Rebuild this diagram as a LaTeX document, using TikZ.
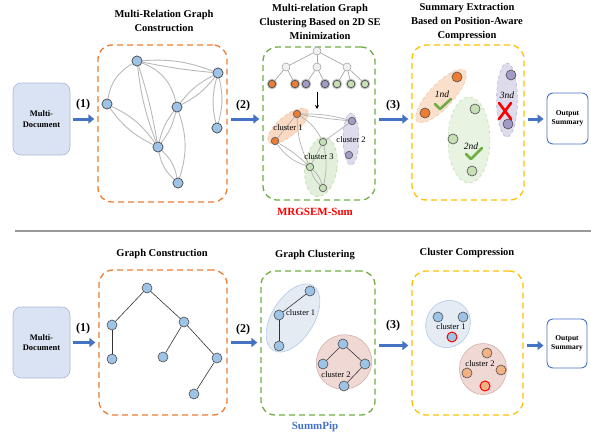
\documentclass[tikz,border=0pt]{standalone}
\usepackage{fontspec}
\setmainfont{Liberation Serif}
\usepackage{tikz}
\usetikzlibrary{positioning,arrows.meta}

\definecolor{nblue}{HTML}{9DC3E6}
\definecolor{norange}{HTML}{ED7D31}
\definecolor{npurple}{HTML}{A29BC8}
\definecolor{ngreen}{HTML}{C5E0B4}
\definecolor{npeach}{HTML}{F4B183}
\definecolor{arrblue}{HTML}{4472C4}
\definecolor{dorange}{HTML}{ED7D31}
\definecolor{dgreen}{HTML}{70AD47}
\definecolor{dyellow}{HTML}{FFC000}
\definecolor{docfill}{HTML}{DAE3F3}
\definecolor{docline}{HTML}{A9B8D6}
\definecolor{cblue}{HTML}{E4EBF3}
\definecolor{cblueline}{HTML}{B4C7E7}
\definecolor{cpink}{HTML}{F0D9D5}
\definecolor{cpinkline}{HTML}{D5AFA8}

\begin{document}
\begin{tikzpicture}
                [x=1pt,y=-1pt,
                n/.style={circle,draw=black!70,fill=nblue,minimum size=10pt,inner sep=0pt,line width=0.6pt},
                sn/.style={circle,draw=black!60,minimum size=7.5pt,inner sep=0pt,line width=0.5pt},
                tn/.style={sn,minimum size=8pt,fill=gray!12,draw=gray!80},
                leaf/.style={sn,draw=black!70,line width=0.7pt,preaction={draw=gray!50,line width=2.8pt}},
                ge/.style={draw=gray!55,line width=0.9pt},
                te/.style={draw=gray!70,line width=0.7pt},
                be/.style={draw=black!80,line width=0.6pt},
                dbox/.style={draw,dash pattern=on 6pt off 4pt,line width=1.3pt,rounded corners=14pt,inner sep=0pt},
                docbox/.style={draw=docline,fill=docfill,rounded corners=8pt,line width=0.6pt,inner sep=0pt,align=center,
                  font=\bfseries\fontsize{8.5}{10.5}\selectfont},
                outbox/.style={draw=arrblue,fill=white,rounded corners=6pt,line width=0.9pt,inner sep=0pt,align=center,
                  font=\bfseries\fontsize{7.5}{9.5}\selectfont},
                ttl/.style={align=center,font=\bfseries\fontsize{10.5}{14}\selectfont},
                stepl/.style={font=\bfseries\fontsize{12}{14}\selectfont},
                cl/.style={font=\fontsize{8.5}{10}\selectfont,inner sep=0pt},
                rk/.style={font=\itshape\fontsize{9.5}{11}\selectfont,inner sep=0pt},
                arr/.style={-{Triangle[length=6pt,width=9pt]},line width=3pt,draw=arrblue,shorten <=3pt,shorten >=3pt},
                chk/.style={draw=dgreen,line width=2.6pt,line cap=round,line join=round},
                xmark/.style={draw=red,line width=2.6pt,line cap=round},
                hot/.style={draw=red,line width=1pt}]
                \useasboundingbox (0,0) rectangle (591,434);

                % ---------------- top row: MRGSEM-Sum ----------------
                \node[ttl] (tt1) at (164,20.5) {Multi-Relation Graph\\Construction};
                \node[ttl] (tt2) at (320,22) {Multi-relation Graph\\Clustering Based on 2D SE\\Minimization};
                \node[ttl] (tt3) at (467,22) {Summary Extraction\\Based on Position-Aware\\Compression};

                \node[docbox,minimum width=57pt,minimum height=72pt] (md1) at (41.5,119) {Multi-\\Document};
                \node[dbox,draw=dorange,minimum width=129pt,minimum height=157pt] (b1) at (162.5,123.5) {};
                \node[dbox,draw=dgreen,minimum width=112pt,minimum height=153pt] (b2) at (319,123.5) {};
                \node[dbox,draw=dyellow,minimum width=112pt,minimum height=155pt] (b3) at (468,122.5) {};
                \node[outbox,minimum width=41pt,minimum height=51pt] (out1) at (567.5,118.5) {Output\\Summary};

                \draw[arr] (md1.east) -- (md1.east -| b1.west);
                \draw[arr] (md1.east -| b1.east) -- (md1.east -| b2.west);
                \draw[arr] (md1.east -| b2.east) -- (md1.east -| b3.west);
                \draw[arr] (md1.east -| b3.east) -- (md1.east -| out1.west);
                \node[stepl] (s1) at (83,105) {(1)};
                \node[stepl] (s2) at (243,106) {(2)};
                \node[stepl] (s3) at (393,106) {(3)};

                % multi-relation graph
                \node[n] (a) at (137,61) {};
                \node[n] (b) at (218,73) {};
                \node[n] (c) at (107,104) {};
                \node[n] (d) at (177,107) {};
                \node[n] (e) at (217,128) {};
                \node[n] (f) at (158,147) {};
                \node[n] (g) at (178,183) {};
                \path[ge](a) edge[bend left=12] (b)
                            edge[bend right=3] (b)
                            edge[bend right=25] (c)
                            edge[bend left=4] (f)
                            edge[bend right=7] (f)
                            edge[bend left=28] (d)
                        (b) edge[bend left=12] (d)
                            edge[bend right=12] (d)
                            edge[bend left=14] (e)
                            edge[bend right=14] (e)
                        (c) edge[bend left=14] (f)
                            edge[bend right=14] (f)
                        (d) edge[bend left=12] (f)
                            edge[bend right=12] (f)
                            edge[bend left=18] (g)
                        (f) edge[bend left=18] (g)
                            edge[bend right=18] (g);
                \foreach \v in {a,b,c,d,e,f,g}
                    \node[n] at (\v) {};

                % encoding tree
                \node[tn] (r0) at (317,51) {};
                \node[tn] (m1) at (286,67) {};
                \node[tn] (m2) at (317,67) {};
                \node[tn] (m3) at (347,67) {};
                \node[leaf,fill=norange] (l1) at (272,84) {};
                \node[leaf,fill=norange] (l2) at (295,84) {};
                \node[leaf,fill=npurple] (l3) at (306,84) {};
                \node[leaf,fill=npurple] (l4) at (325,84) {};
                \node[leaf,fill=ngreen] (l5) at (337,84) {};
                \node[leaf,fill=ngreen] (l6) at (351,84) {};
                \node[leaf,fill=ngreen] (l7) at (365,84) {};
                \path[te](r0) edge (m1) edge (m2) edge (m3)
                        (m1) edge (l1) edge (l2)
                        (m2) edge (l3) edge (l4)
                        (m3) edge (l5) edge (l6) edge (l7);
                \coordinate (dtop) at (317,92);
                \coordinate (dbot) at (317,109);
                \draw[-{Stealth[length=4pt,width=4pt]},line width=0.8pt] (dtop) -- (dbot);

                % clusters of the graph
                \fill[norange!30,draw=norange!55,dashed] (288,126) ellipse[x radius=25,y radius=10,rotate=40];
                \fill[npurple!35,draw=npurple!90,dashed] (351,139) ellipse[x radius=8,y radius=26];
                \fill[ngreen!50,draw=dgreen!60,dashed] (321,167) ellipse[x radius=16,y radius=30,rotate=-8];
                \node[sn,fill=norange] (o1) at (297,114) {};
                \node[sn,fill=norange] (o2) at (275,141) {};
                \node[sn,fill=npurple] (p1) at (352,121) {};
                \node[sn,fill=npurple] (p2) at (349,155) {};
                \node[sn,fill=ngreen] (g1) at (323,142) {};
                \node[sn,fill=ngreen] (g2) at (310,167) {};
                \node[sn,fill=ngreen] (g3) at (323,188) {};
                \path[te,draw=gray!60](o1) edge (o2)
                            edge[bend left=8] (p1)
                            edge[bend left=-2] (p1)
                            edge[bend left=15] (g1)
                            edge[bend right=12] (g2)
                        (o2) edge[bend right=18] (g2)
                            edge[bend left=6] (g2)
                        (g1) edge (p1)
                            edge (g2)
                            edge[bend left=12] (g3)
                        (g2) edge[bend left=15] (g3)
                            edge[bend right=15] (g3);
                \foreach \v in {o1,o2,p1,p2,g1,g2,g3}
                    \node[sn,fill=none] at (\v) {};
                \node[cl] (k1) at (288,128) {cluster 1};
                \node[cl] (k2) at (351,140) {cluster 2};
                \node[cl] (k3) at (319,157) {cluster 3};
                \node[font=\bfseries\fontsize{11}{13}\selectfont,text=red] (nm1) at (315,212) {MRGSEM-Sum};

                % position-aware compression
                \fill[norange!25,draw=norange!50,dashed] (441,96) ellipse[x radius=35,y radius=12,rotate=47];
                \fill[ngreen!40,draw=dgreen!55,dashed] (469,140) ellipse[x radius=21,y radius=43];
                \fill[npurple!35,draw=npurple!90,dashed] (507,100) ellipse[x radius=10.5,y radius=37];
                \node[n,fill=norange] (x1) at (457,77) {};
                \node[n,fill=norange] (x2) at (425,113) {};
                \node[n,fill=ngreen] (y1) at (475,109) {};
                \node[n,fill=ngreen] (y2) at (453,139) {};
                \node[n,fill=ngreen] (y3) at (472,171) {};
                \node[n,fill=npurple] (z1) at (511,75) {};
                \node[n,fill=npurple] (z2) at (508,124) {};
                \node[rk] (rk1) at (442,94) {1nd};
                \node[rk] (rk2) at (471,146) {2nd};
                \node[rk] (rk3) at (507,95) {3nd};
                \draw[chk] (435,104) -- (440,109) -- (451,99);
                \draw[chk] (466,154) -- (471,159) -- (482,148);
                \draw[xmark] (499,103) -- (511,119) (511,103) -- (499,119);

                % separator
                \draw[gray!80,line width=1.2pt] (15,231) -- (591,231);

                % ---------------- bottom row: SummPip ----------------
                \node[ttl] (tt4) at (162,254) {Graph Construction};
                \node[ttl] (tt5) at (315,255) {Graph Clustering};
                \node[ttl] (tt6) at (467,253) {Cluster Compression};

                \node[docbox,minimum width=57pt,minimum height=71pt] (md2) at (41.5,342.5) {Multi-\\Document};
                \node[dbox,draw=dorange,minimum width=128pt,minimum height=145pt] (b4) at (163,342.5) {};
                \node[dbox,draw=dgreen,minimum width=114pt,minimum height=144pt] (b5) at (318,343) {};
                \node[dbox,draw=dyellow,minimum width=111pt,minimum height=144pt] (b6) at (467.5,343) {};
                \node[outbox,minimum width=40pt,minimum height=49pt] (out2) at (567,343.5) {Output\\Summary};

                \draw[arr] (md2.east) -- (md2.east -| b4.west);
                \draw[arr] (md2.east -| b4.east) -- (md2.east -| b5.west);
                \draw[arr] ([yshift=-3pt]md2.east -| b5.east) -- ([yshift=-3pt]md2.east -| b6.west);
                \draw[arr] ([yshift=-3pt]md2.east -| b6.east) -- ([yshift=-3pt]md2.east -| out2.west);
                \node[stepl] (s4) at (83,329) {(1)};
                \node[stepl] (s5) at (243,330) {(2)};
                \node[stepl] (s6) at (393,326) {(3)};

                % tree graph
                \node[n] (t1) at (147,288) {};
                \node[n] (t2) at (112,325) {};
                \node[n] (t3) at (184,322) {};
                \node[n] (t4) at (112,359) {};
                \node[n] (t5) at (163,357) {};
                \node[n] (t6) at (217,358) {};
                \node[n] (t7) at (194,394) {};
                \path[be](t1) edge (t2) edge (t3)
                        (t2) edge (t4)
                        (t3) edge (t5) edge (t6)
                        (t6) edge (t7);

                % clustering
                \fill[cblue,draw=cblueline,line width=0.6pt] (293,318) ellipse[x radius=38,y radius=21,rotate=58];
                \fill[cpink,draw=cpinkline,line width=0.6pt] (344,362) ellipse[x radius=28,y radius=27,rotate=30];
                \node[n] (u1) at (310,291) {};
                \node[n] (u2) at (279,315) {};
                \node[n] (u3) at (279,346) {};
                \node[n] (v1) at (343,344) {};
                \node[n] (v2) at (323,364) {};
                \node[n] (v3) at (365,364) {};
                \node[n] (v4) at (344,386) {};
                \path[be](u1) edge (u2)
                        (u2) edge (u3)
                        (v1) edge (v2) edge (v3)
                        (v3) edge (v4);
                \node[cl,anchor=west] (k4) at (286,313) {cluster 1};
                \node[cl] (k5) at (336,375) {cluster 2};
                \node[font=\bfseries\fontsize{11}{13}\selectfont,text=arrblue] (nm2) at (315,427) {SummPip};

                % cluster compression
                \fill[cblue,draw=cblueline,line width=0.6pt] (448,324) ellipse[x radius=22,y radius=24,rotate=-25];
                \fill[cpink,draw=cpinkline,line width=0.6pt] (483,369) ellipse[x radius=23.5,y radius=25.5];
                \node[n] (w1) at (438,317) {};
                \node[n] (w2) at (463,317) {};
                \node[n,hot] (w3) at (452,337) {};
                \node[n,fill=npeach] (q1) at (487,353) {};
                \node[n,fill=npeach] (q2) at (467,373) {};
                \node[n,fill=npeach] (q3) at (501,370) {};
                \node[n,fill=npeach,hot] (q4) at (485,386) {};
                \node[cl] (k6) at (451,327) {cluster 1};
                \node[cl] (k7) at (480,364) {cluster 2};
            \end{tikzpicture}
\end{document}
